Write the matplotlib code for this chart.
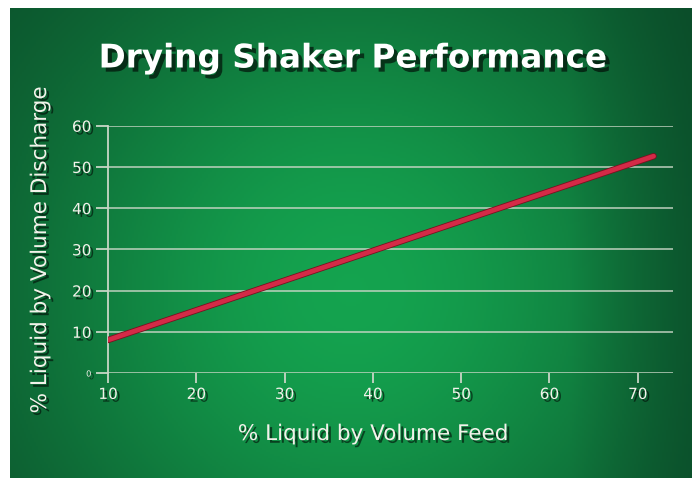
import numpy as np
import matplotlib
matplotlib.use("Agg")
import matplotlib.pyplot as plt
import matplotlib.patheffects as pe

# data
feed = [10, 71.8]          # % liquid by volume feed
discharge = [8.0, 52.6]    # % liquid by volume discharge
xticks = [10, 20, 30, 40, 50, 60, 70]
yticks = [0, 10, 20, 30, 40, 50, 60]

W, H = 692, 478
fig = plt.figure(figsize=(W/100, H/100), dpi=100, facecolor='white')

# green gradient backdrop
bg = fig.add_axes([10/W, 0, (W-10)/W, 470/H])
bg.set_axis_off()
ny, nx = 235, 341
yy, xx = np.mgrid[0:1:ny*1j, 0:1:nx*1j]
t = np.exp(-((xx-0.50)/0.52)**2 - ((yy-0.60)/0.75)**2)
t = t * (1 - 0.55*np.clip((xx-0.82)/0.18, 0, 1))
dark = np.array([0.04, 0.27, 0.15])
bright = np.array([0.08, 0.64, 0.31])
img = dark + (bright-dark)*t[..., None]
bg.imshow(img, aspect='auto', extent=[0, 1, 0, 1], origin='upper')
bg.set_xlim(0, 1); bg.set_ylim(0, 1)

shadow = [pe.SimplePatchShadow(offset=(2, -2), shadow_rgbFace='black', alpha=0.55), pe.Normal()]
white = '#f2f2ea'
grid_c = '#c9d6c6'

ax = fig.add_axes([108/W, 105/H, 565/W, 247.3/H])
ax.patch.set_alpha(0)
ax.set_xlim(10, 74)
ax.set_ylim(0, 60)

for y in yticks:
    ax.axhline(y, color=grid_c, lw=1.3, alpha=0.8, zorder=1)

ax.plot(feed, discharge, color='#7a1020', lw=4.6, solid_capstyle='round', zorder=3)
ax.plot(feed, discharge, color='#d42a47', lw=3.4, solid_capstyle='round', zorder=4)

for s in ['top', 'right', 'bottom']:
    ax.spines[s].set_visible(False)
ax.spines['left'].set_color(grid_c)
ax.spines['left'].set_linewidth(1.3)

ax.set_xticks(xticks)
ax.set_yticks(yticks)
ax.tick_params(axis='x', colors=grid_c, length=7, width=1.3, pad=3, labelcolor=white, labelsize=11)
ax.tick_params(axis='y', colors=grid_c, length=9, width=1.3, pad=3, labelcolor=white, labelsize=11)
for lab in ax.get_xticklabels() + ax.get_yticklabels():
    lab.set_fontfamily('DejaVu Sans')
    lab.set_path_effects(shadow)
ax.get_yticklabels()[0].set_fontsize(6)

fig.text(353/W, 1-58/H, 'Drying Shaker Performance', ha='center', va='center',
         color='white', fontsize=23.5, fontweight='bold', family='DejaVu Sans',
         path_effects=[pe.SimplePatchShadow(offset=(3, -3), shadow_rgbFace='black', alpha=0.6), pe.Normal()])
fig.text(373/W, 1-434/H, '% Liquid by Volume Feed', ha='center', va='center',
         color=white, fontsize=15.5, family='DejaVu Sans', path_effects=shadow)
fig.text(40/W, 1-250/H, '% Liquid by Volume Discharge', ha='center', va='center', rotation=90,
         color=white, fontsize=15.5, family='DejaVu Sans', path_effects=shadow)

fig.savefig('out.png', dpi=100, facecolor='white')
